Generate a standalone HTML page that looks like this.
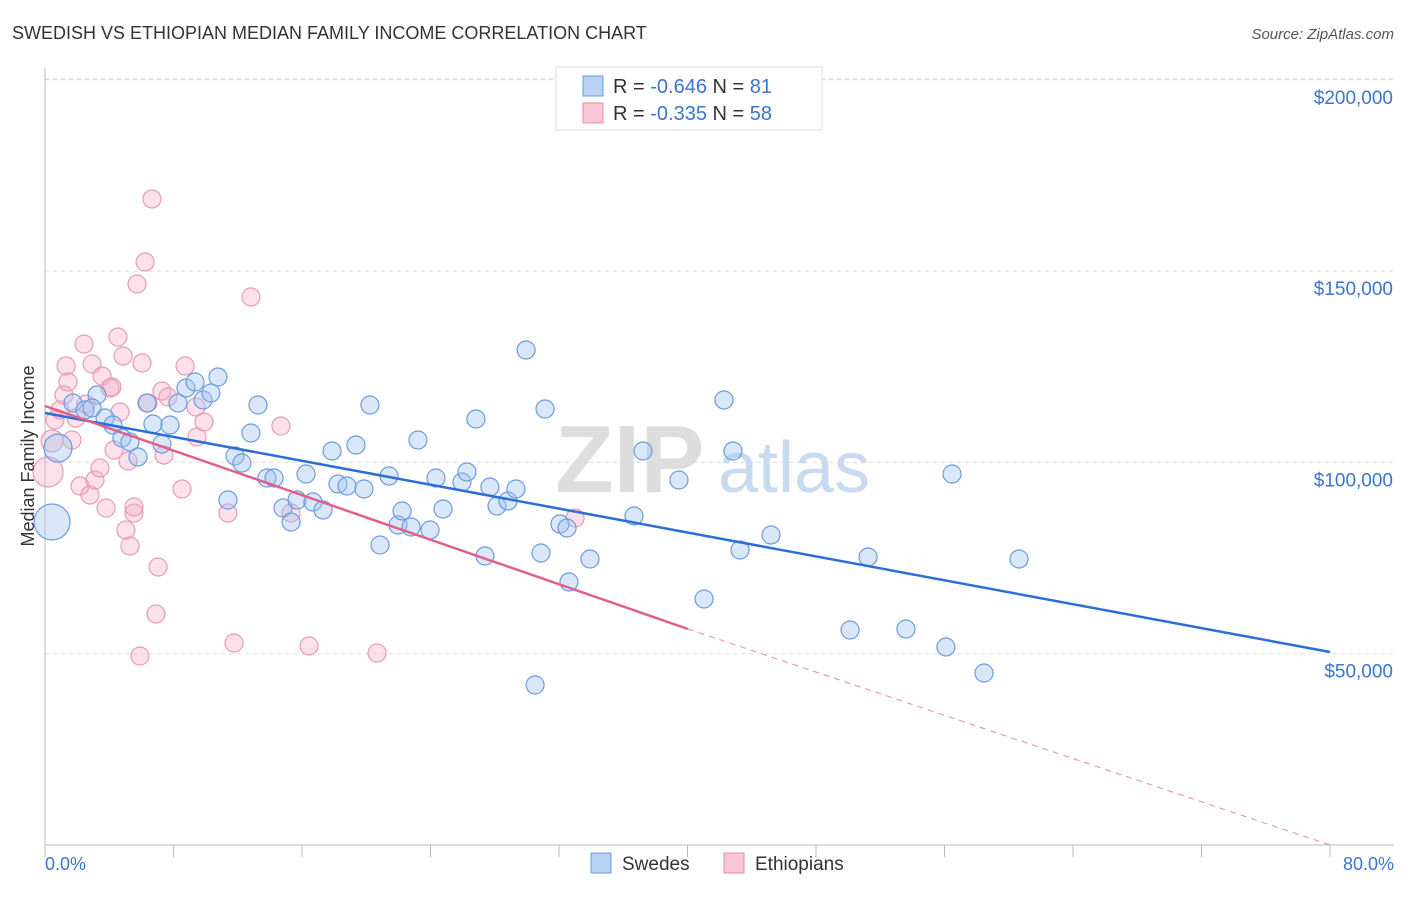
<!DOCTYPE html>
<html><head><meta charset="utf-8"><style>
body{margin:0;background:#fff;font-family:"Liberation Sans",sans-serif}
svg text{font-family:"Liberation Sans",sans-serif}
</style></head><body>
<svg width="1406" height="892" xmlns="http://www.w3.org/2000/svg">
<text x="12" y="39" font-size="18" fill="#333">SWEDISH VS ETHIOPIAN MEDIAN FAMILY INCOME CORRELATION CHART</text>
<text x="1394" y="39" font-size="15" fill="#555" font-style="italic" text-anchor="end">Source: ZipAtlas.com</text>
<g id="grid"></g>
<line x1="45" y1="68" x2="45" y2="845" stroke="#bbb"/>
<line x1="45" y1="845" x2="1394" y2="845" stroke="#bbb"/>
<text x="555" y="492" font-size="96" fill="#ddd" font-family="Liberation Serif" font-weight="bold">ZIP</text>
<text x="718" y="492" font-size="72" fill="#c9daf0">atlas</text>
<g id="pts"></g>
<g id="trend"></g>
<text transform="translate(34,456) rotate(-90)" font-size="18" fill="#333" text-anchor="middle">Median Family Income</text>
<text x="45" y="870" font-size="18" fill="#3a74d0">0.0%</text>
<text x="1394" y="870" font-size="18" fill="#3a74d0" text-anchor="end">80.0%</text>
<g>
<rect x="556" y="67" width="266" height="63" fill="#fff" stroke="#ddd"/>
<rect x="583" y="76" width="20" height="20" fill="#b8d2f4" stroke="#6a9be0"/>
<rect x="583" y="103" width="20" height="20" fill="#f8c6d6" stroke="#e88aa8"/>
<text x="613" y="93" font-size="20" fill="#333">R = <tspan fill="#3a74d0">-0.646</tspan>   N = <tspan fill="#3a74d0"> 81</tspan></text>
<text x="613" y="120" font-size="20" fill="#333">R = <tspan fill="#3a74d0">-0.335</tspan>   N = <tspan fill="#3a74d0">58</tspan></text>
</g>
<g>
<rect x="591" y="853" width="20" height="20" fill="#b8d2f4" stroke="#6a9be0"/>
<text x="622" y="870" font-size="19" fill="#333">Swedes</text>
<rect x="724" y="853" width="20" height="20" fill="#f8c6d6" stroke="#e88aa8"/>
<text x="755" y="870" font-size="19" fill="#333">Ethiopians</text>
</g>
</svg>
<script>
const yTicks=[50000,100000,150000,200000];
const yTickLabels=["$50,000","$100,000","$150,000","$200,000"];
const xTicks=[0,8,16,24,32,40,48,56,64,72,80];
const swedesPx=[[52,522,18],[58,448,14],[73,403],[85,410],[97,395],[92,408],[105,418],[113,425],[122,438],[130,442],[138,457],[147,403],[153,424],[162,444],[170,425],[178,403],[186,388],[195,382],[203,400],[211,393],[218,377],[228,500],[235,456],[242,463],[251,433],[258,405],[267,478],[274,478],[283,508],[291,522],[297,500],[306,474],[313,502],[323,510],[332,451],[338,484],[347,486],[356,445],[364,489],[370,405],[380,545],[389,476],[398,525],[402,511],[411,527],[418,440],[430,530],[436,478],[443,509],[462,482],[467,472],[476,419],[485,556],[490,487],[497,506],[508,501],[516,489],[526,350],[535,685],[541,553],[545,409],[560,524],[567,528],[569,582],[590,559],[634,516],[643,451],[679,480],[704,599],[724,400],[733,451],[740,550],[771,535],[850,630],[868,557],[906,629],[946,647],[952,474],[984,673],[1019,559]];
const ethPx=[[48,472,15],[52,441,11],[55,420],[60,410],[64,395],[66,366],[68,382],[72,440],[76,418],[80,486],[84,344],[86,404],[90,495],[92,364],[95,480],[100,468],[102,376],[106,508],[110,388],[112,387],[114,450],[118,337],[120,412],[123,356],[126,530],[128,461],[130,546],[134,513],[134,507],[137,284],[140,656],[142,363],[145,262],[148,403],[152,199],[156,614],[158,567],[162,391],[164,455],[168,397],[182,489],[185,366],[196,407],[197,437],[204,422],[228,513],[234,643],[251,297],[281,426],[291,513],[309,646],[377,653],[575,518]];
// convert to data (percent, income)
const swedesX=swedesPx.map(p=>+((p[0]-45)/16.0625).toFixed(2));
const swedesY=swedesPx.map(p=>Math.round((845-p[1])/191.3*50000));
const ethX=ethPx.map(p=>+((p[0]-45)/16.0625).toFixed(2));
const ethY=ethPx.map(p=>Math.round((845-p[1])/191.3*50000));
const swedesR=swedesPx.map(p=>p[2]||9);
const ethR=ethPx.map(p=>p[2]||9);
const sx=v=>45+v*16.0625, sy=v=>845-v/50000*191.3;
const NS="http://www.w3.org/2000/svg";
function mk(t,a,parent){const e=document.createElementNS(NS,t);for(const k in a)e.setAttribute(k,a[k]);parent.appendChild(e);return e;}
const grid=document.getElementById('grid');
yTicks.forEach((v,i)=>{
 const l=mk('line',{x1:45,x2:1394,y1:sy(v),y2:sy(v),stroke:'#ddd','stroke-dasharray':'4,4'},grid);
 
 
 const t=mk('text',{x:1393,y:sy(v)+24,'font-size':19,fill:'#3a74d0','text-anchor':'end'},grid);
 t.textContent=yTickLabels[i];
 
 
});
mk('line',{x1:45,x2:1394,y1:79,y2:79,stroke:'#ddd','stroke-dasharray':'4,4'},grid);
xTicks.forEach(v=>{
 const l=mk('line',{x1:sx(v),x2:sx(v),y1:845,y2:857,stroke:'#bbb'},grid);
 
 
});
const pts=document.getElementById('pts');
ethX.forEach((x,i)=>{
 const c=mk('circle',{cx:sx(x),cy:sy(ethY[i]),r:ethR[i],fill:'rgba(245,170,195,0.35)',stroke:'#e99ab4','stroke-width':1.2},pts);
 
 
});
swedesX.forEach((x,i)=>{
 const c=mk('circle',{cx:sx(x),cy:sy(swedesY[i]),r:swedesR[i],fill:'rgba(160,195,240,0.4)',stroke:'#6a9be0','stroke-width':1.2},pts);
 
 
});
const tr=document.getElementById('trend');
const l1=mk('line',{x1:45,y1:413,x2:1330,y2:652,stroke:'#2a6fd6','stroke-width':2.5},tr);


const l2=mk('line',{x1:45,y1:406,x2:688,y2:629,stroke:'#e0608a','stroke-width':2.5},tr);


const l3=mk('line',{x1:688,y1:629,x2:1330,y2:845,stroke:'#e88aa8','stroke-width':1,'stroke-dasharray':'6,5'},tr);


</script>
</body></html>
